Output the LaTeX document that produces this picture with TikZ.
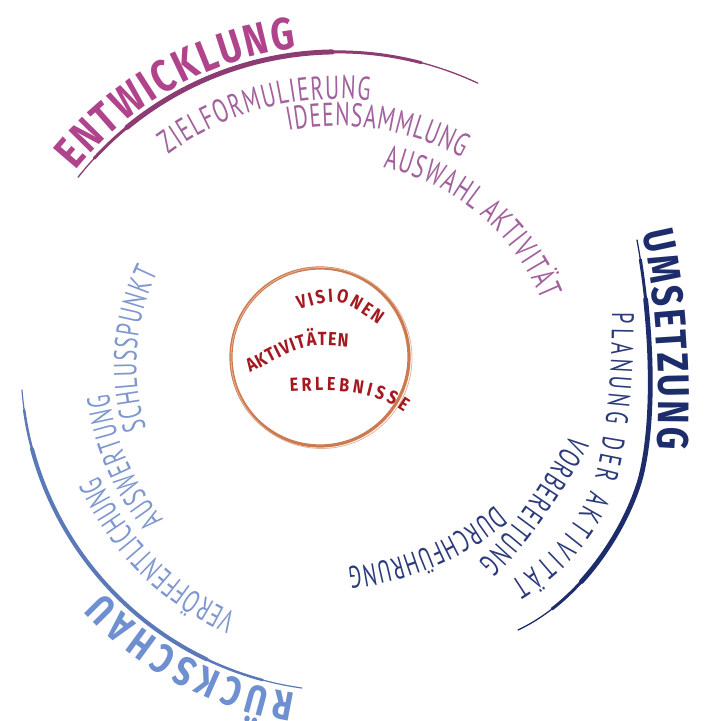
\documentclass[tikz,border=0pt]{standalone}
\usepackage{fontspec}
\usetikzlibrary{decorations.text}
\newfontfamily\headfont{Fira Sans}[FakeStretch=0.8]
\newfontfamily\innfont{Fira Sans}[FakeStretch=0.85]
\newfontfamily\labfont{PT Sans}[FakeStretch=0.65]
\definecolor{entH}{HTML}{B0448C}
\definecolor{entA}{HTML}{8C3B73}
\definecolor{entL}{HTML}{A2609D}
\definecolor{umsH}{HTML}{1D2C6B}
\definecolor{umsL}{HTML}{2B3A7A}
\definecolor{rueH}{HTML}{6E8FD0}
\definecolor{rueA}{HTML}{5B79B9}
\definecolor{rueL}{HTML}{7F97CF}
\definecolor{circ}{HTML}{CC7A50}
\definecolor{inner}{HTML}{A3191F}
\newcommand\HeadE{\headfont\bfseries\fontsize{45}{47}\selectfont\color{entH}}
\newcommand\HeadU{\headfont\bfseries\fontsize{44}{46}\selectfont\color{umsH}}
\newcommand\HeadR{\headfont\bfseries\fontsize{41}{43}\selectfont\color{rueH}}
\newcommand\LabE{\labfont\fontsize{33}{35}\selectfont\color{entL}}
\newcommand\LabU{\labfont\fontsize{31}{33}\selectfont\color{umsL}}
\newcommand\LabR{\labfont\fontsize{32}{34}\selectfont\color{rueL}}
\newcommand\Inn{\innfont\bfseries\fontsize{19}{21}\selectfont\color{inner}}
\tikzset{
  curvedtext/.style={decorate, decoration={text along path, text={#1}, text align={fit to path}}},
}
\begin{document}
\begin{tikzpicture}[x=1pt, y=1pt]
\useasboundingbox (0,0) rectangle (709,721);
\fill[white] (0,0) rectangle (709,721);
\coordinate (CE) at (337.4,338.1);
\coordinate (CR) at (347.3,356.1);
\coordinate (CC) at (320,364);

% ---------- arcs (tapered by layered dashes) ----------
\draw[entA, line width=1.3pt, line cap=round]
  ([shift={(141.6:331)}]CE) arc[start angle=141.6, end angle=64.9, radius=331];
\foreach \w/\l/\ph in {3.0/358/2333, 5.0/223/2153}
  \draw[entA, line width=\w pt, line cap=round, dash pattern=on \l pt off 2000pt, dash phase=\ph pt]
    ([shift={(141.6:331)}]CE) arc[start angle=141.6, end angle=64.9, radius=331];

\draw[umsH, line width=1.3pt, line cap=round]
  (637,481) .. controls (652,400) and (656,300) .. (640,241)
            .. controls (625,190) and (580,120) .. (518,91);
\foreach \w/\l/\ph in {3.0/380/2360, 4.8/300/2240}
  \draw[umsH, line width=\w pt, line cap=round, dash pattern=on \l pt off 2000pt, dash phase=\ph pt]
    (637,481) .. controls (652,400) and (656,300) .. (640,241)
              .. controls (625,190) and (580,120) .. (518,91);

\draw[rueA, line width=1.2pt, line cap=round]
  ([shift={(184.4:326.3)}]CR) arc[start angle=184.4, end angle=262, radius=326.3];
\foreach \w/\l/\ph in {2.5/382/2362, 4.0/282/2222}
  \draw[rueA, line width=\w pt, line cap=round, dash pattern=on \l pt off 2000pt, dash phase=\ph pt]
    ([shift={(184.4:326.3)}]CR) arc[start angle=184.4, end angle=262, radius=326.3];

% ---------- centre circle ----------
\draw[circ, line width=3.2pt] (CC) circle[radius=89];
\draw[circ!55, line width=0.8pt] ([shift={(1.5,-1)}]CC) circle[radius=90.5];

% ---------- Entwicklung ----------
\path[curvedtext={|\HeadE|ENTWICKLUNG}]
  ([shift={(141:337)}]CE) arc[start angle=141, end angle=97, radius=337];
\path[curvedtext={|\LabE|ZIELFORMULIERUNG}]
  ([shift={(126.5:284)}]CE) arc[start angle=126.5, end angle=83.5, radius=284];
\path[curvedtext={|\LabE|IDEENSAMMLUNG}]
  ([shift={(101:257)}]CE) arc[start angle=101, end angle=61, radius=257];
\path[curvedtext={|\LabE|AUSWAHL AKTIVITÄT}]
  ([shift={(78:220)}]CE) arc[start angle=78, end angle=22, radius=220];

% ---------- Umsetzung ----------
\path[curvedtext={|\HeadU|UMSETZUNG}]
  (642,488) .. controls (655,440) and (662,330) .. (657,272);
\path[curvedtext={|\LabU|PLANUNG DER AKTIVITÄT}]
  (612,408) .. controls (612,340) and (606,290) .. (597,251)
            .. controls (588,212) and (560,170) .. (510,139);
\path[curvedtext={|\LabU|VORBEREITUNG}]
  (571,286) .. controls (548,250) and (518,196) .. (478,159);
\path[curvedtext={|\LabU|DURCHFÜHRUNG}]
  (495,216) .. controls (462,188) and (410,160) .. (348,154);

% ---------- Rueckschau ----------
\path[curvedtext={|\HeadR|RÜCKSCHAU}]
  ([shift={(261:333)}]CR) arc[start angle=261, end angle=223, radius=333];
\path[curvedtext={|\LabR|VERÖFFENTLICHUNG}]
  ([shift={(246:272)}]CR) arc[start angle=246, end angle=204, radius=272];
\path[curvedtext={|\LabR|AUSWERTUNG}]
  ([shift={(220:240)}]CR) arc[start angle=220, end angle=187, radius=240];
\path[curvedtext={|\LabR|SCHLUSSPUNKT}]
  ([shift={(197.5:211)}]CR) arc[start angle=197.5, end angle=154, radius=211];

% ---------- centre texts ----------
\path[curvedtext={|\Inn|VISIONEN}] (299,411) .. controls (340,423) .. (378,396);
\path[curvedtext={|\Inn|AKTIVITÄTEN}] (250,348) .. controls (305,377) .. (348,374);
\path[curvedtext={|\Inn|ERLEBNISSE}] (290,329) .. controls (330,331) and (370,333) .. (404,309);
\end{tikzpicture}
\end{document}
